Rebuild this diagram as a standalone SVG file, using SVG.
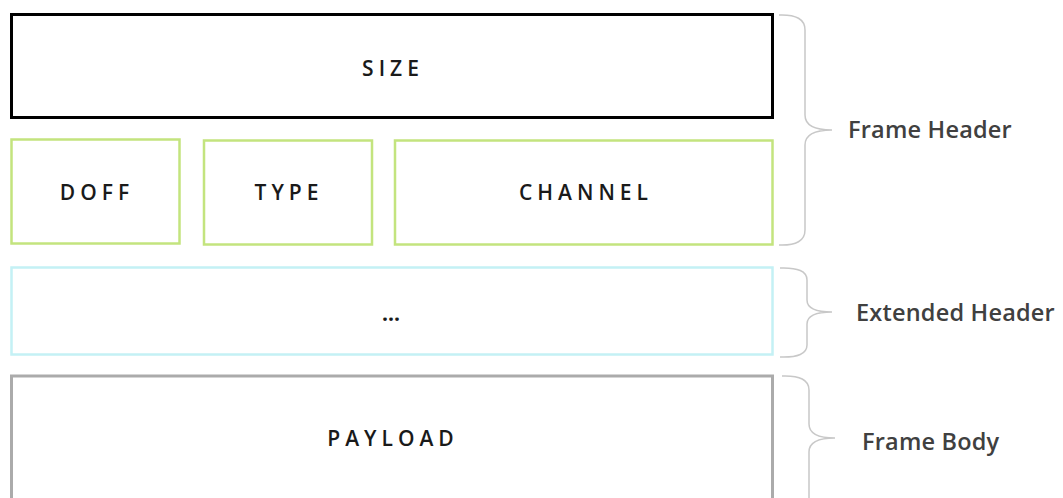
<svg xmlns="http://www.w3.org/2000/svg" width="1063" height="498" viewBox="0 0 1063 498">
<style>
.box{fill:#fff}
.lbl{font-family:"Open Sans","Liberation Sans",sans-serif;font-weight:600;font-size:21px;letter-spacing:5px;fill:#1a1a1a;text-anchor:middle;dominant-baseline:central}
.side{font-family:"Open Sans","Liberation Sans",sans-serif;font-weight:600;font-size:23.5px;letter-spacing:0.2px;fill:#404040}
.brace{fill:none;stroke:#c8c8c8;stroke-width:1.5}
</style>
<rect width="1063" height="498" fill="#fff"/>
<g id="size"><rect class="box" x="11.5" y="14.5" width="761" height="103" stroke="#000" stroke-width="3"/><text class="lbl" x="393" y="68">SIZE</text></g>
<g id="doff"><rect class="box" x="11.5" y="139.5" width="168" height="104" stroke="#c3e47e" stroke-width="2.5"/><text class="lbl" x="97" y="192">DOFF</text></g>
<g id="type"><rect class="box" x="204" y="140.5" width="168" height="104" stroke="#c3e47e" stroke-width="2.5"/><text class="lbl" x="289" y="192">TYPE</text></g>
<g id="channel"><rect class="box" x="395" y="140.5" width="377.5" height="104" stroke="#c3e47e" stroke-width="2.5"/><text class="lbl" x="586" y="192">CHANNEL</text></g>
<g id="extended"><rect class="box" x="11.5" y="267.5" width="761" height="87" stroke="#c4f1f5" stroke-width="2.5"/><text class="lbl" x="391" y="313" style="letter-spacing:0;font-weight:700">...</text></g>
<g id="payload"><rect class="box" x="11.5" y="376" width="761" height="130" stroke="#ababab" stroke-width="3"/><text class="lbl" x="393" y="438">PAYLOAD</text></g>
<g id="connectors">
<path class="brace" d="M779,15 Q805,14 805,30 L805,115 Q805,130 832,130 Q805,130 805,145 L805,230 Q805,246 779,245"/>
<path class="brace" d="M780,268 Q807,267 807,280 L807,300 Q807,312 832,312 Q807,312 807,324 L807,345 Q807,358 780,357"/>
<path class="brace" d="M782,376 Q809,375 809,390 L809,424 Q809,438 835,438 Q809,438 809,452 L809,510"/>
</g>
<g id="labels">
<text class="side" x="848" y="138">Frame Header</text>
<text class="side" x="856" y="321">Extended Header</text>
<text class="side" x="862" y="450">Frame Body</text>
</g>
</svg>
